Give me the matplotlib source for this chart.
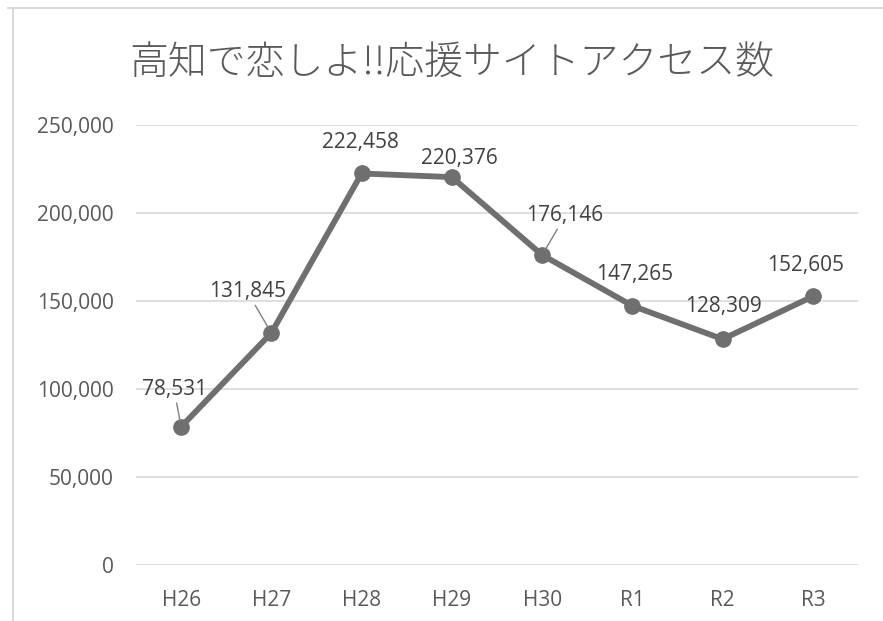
import matplotlib.pyplot as plt
from matplotlib.lines import Line2D
from matplotlib.ticker import FuncFormatter

plt.rcParams['font.family'] = ['Noto Sans CJK JP', 'DejaVu Sans']

# ==== data ====
years = ["H26", "H27", "H28", "H29", "H30", "R1", "R2", "R3"]
access = [78531, 131845, 222458, 220376, 176146, 147265, 128309, 152605]
# label offsets (pixels) from each point, and whether a leader line is drawn
label_dx = [-7, -24, -1, 7, 23, 2, 1, -7]
label_dy = [37, 41, 31, 19, 39, 31, 33, 31]
leader = [True, True, False, False, True, False, False, False]

title = "高知で恋しよ!!応援サイトアクセス数"
text_col = "#595959"
line_col = "#6f6f6f"

fig = plt.figure(figsize=(8.83, 6.21), dpi=100)
ax = fig.add_axes([136 / 883, 1 - 565 / 621, 722 / 883, 440 / 621])

x = list(range(len(years)))
ax.plot(x, access, color=line_col, lw=4.2, marker="o", ms=11,
        solid_joinstyle="round", zorder=3)

for i, v in enumerate(access):
    ax.annotate(f"{v:,}", xy=(i, v), xytext=(label_dx[i], label_dy[i]),
                textcoords="offset pixels", ha="center", va="center",
                fontsize=15, color="#404040", family="Open Sans",
                arrowprops=dict(arrowstyle="-", color="#808080", lw=1.0,
                                shrinkA=0, shrinkB=4) if leader[i] else None,
                zorder=4)

ax.set_xlim(-0.5, len(years) - 0.5)
ax.set_ylim(0, 250000)
ax.set_yticks(range(0, 250001, 50000))
ax.yaxis.set_major_formatter(FuncFormatter(lambda v, p: f"{int(v):,}"))
ax.set_xticks(x)
ax.set_xticklabels(years)
ax.grid(axis="y", color="#d9d9d9", lw=1.2)
ax.set_axisbelow(True)
for s in ax.spines.values():
    s.set_visible(False)
ax.tick_params(length=0, labelsize=15, colors=text_col, pad=18)
ax.tick_params(axis="y", pad=16)
for lab in ax.get_xticklabels() + ax.get_yticklabels():
    lab.set_family("Open Sans")

fig.text(0.512, 1 - 63 / 621, title, ha="center", va="center",
         fontsize=28, color=text_col, weight="light")

# outer frame (top and left edges visible)
fig.add_artist(Line2D([8 / 883, 1], [1 - 8 / 621, 1 - 8 / 621],
                      color="#d9d9d9", lw=1.5, transform=fig.transFigure))
fig.add_artist(Line2D([12.5 / 883, 12.5 / 883], [0, 1 - 8 / 621],
                      color="#d9d9d9", lw=1.5, transform=fig.transFigure))

fig.savefig("out.png", dpi=100)
